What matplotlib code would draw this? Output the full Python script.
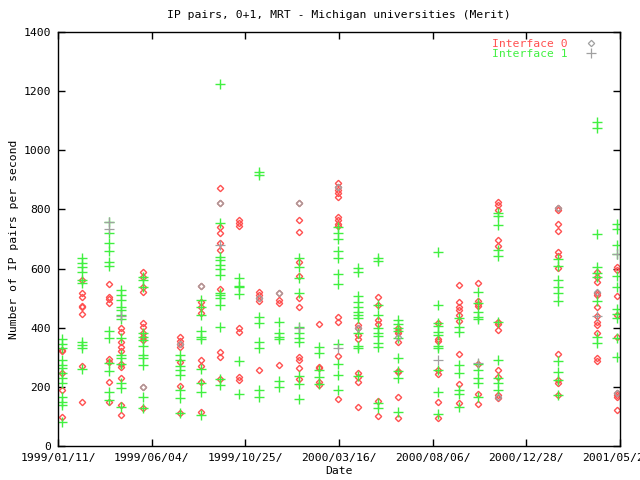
import matplotlib
matplotlib.use("Agg")
import matplotlib.pyplot as plt
import matplotlib.dates as mdates
from matplotlib.lines import Line2D
import numpy as np
import datetime as dt

# sample dates (one column of points per date) and values
dates = ["1999-01-17", "1999-02-17", "1999-03-30", "1999-04-18", "1999-05-21",
         "1999-07-17", "1999-08-18", "1999-09-16", "1999-10-15", "1999-11-15",
         "1999-12-15", "2000-01-15", "2000-02-15", "2000-03-15", "2000-04-15",
         "2000-05-15", "2000-06-15", "2000-08-15", "2000-09-16", "2000-10-15",
         "2000-11-15", "2001-02-15", "2001-04-16", "2001-05-16"]

if0 = [
    [325, 320, 247, 189, 98],
    [561, 517, 504, 473, 470, 446, 270, 149],
    [548, 504, 497, 484, 294, 284, 216, 149],
    [399, 386, 352, 335, 321, 277, 267, 230, 139, 105],
    [588, 572, 538, 521, 416, 402, 382, 369, 358, 200, 128],
    [369, 355, 345, 335, 284, 203, 112],
    [541, 487, 470, 450, 291, 271, 216, 115],
    [872, 822, 741, 720, 687, 663, 531, 318, 301, 227],
    [764, 754, 744, 399, 386, 233, 223],
    [521, 511, 500, 490, 257],
    [517, 494, 484, 274],
    [822, 764, 724, 622, 575, 500, 470, 301, 291, 264, 227],
    [412, 267, 264, 216, 206],
    [889, 876, 866, 856, 842, 774, 764, 751, 744, 436, 419, 304, 159],
    [409, 399, 375, 362, 247, 233, 216, 132],
    [504, 477, 426, 412, 152, 101],
    [399, 389, 382, 352, 254, 250, 166, 95],
    [416, 362, 355, 257, 243, 149, 95],
    [544, 487, 470, 460, 443, 423, 311, 210, 145],
    [551, 490, 480, 473, 277, 176, 142],
    [825, 815, 798, 697, 676, 419, 412, 392, 257, 233, 172, 162],
    [805, 798, 751, 727, 656, 643, 602, 311, 223, 213, 172],
    [588, 572, 555, 517, 511, 470, 440, 419, 409, 382, 298, 287],
    [605, 595, 507, 443, 369, 179, 172, 166, 122],
]

if1 = [
    [362, 345, 331, 291, 274, 264, 247, 230, 213, 166, 149, 139, 81],
    [636, 619, 605, 588, 561, 551, 352, 342, 331, 260],
    [757, 720, 686, 659, 622, 609, 389, 365, 281, 254, 183, 156],
    [528, 511, 494, 470, 460, 443, 430, 365, 308, 298, 277, 213, 196, 132],
    [572, 561, 538, 382, 369, 358, 338, 308, 298, 274, 166, 128],
    [308, 291, 271, 257, 240, 189, 162, 112],
    [494, 470, 443, 389, 369, 362, 260, 213, 183, 105],
    [1224, 754, 639, 629, 612, 598, 578, 517, 511, 500, 477, 402, 227, 206],
    [568, 541, 538, 514, 287, 176],
    [927, 916, 436, 416, 352, 331, 189, 166],
    [419, 382, 369, 362, 220, 200],
    [636, 605, 568, 517, 402, 382, 365, 352, 237, 210, 159],
    [335, 315, 257, 233, 210],
    [741, 720, 700, 659, 636, 582, 548, 345, 277, 240, 189],
    [602, 588, 507, 487, 470, 453, 443, 433, 382, 338, 331, 237],
    [636, 626, 477, 443, 399, 382, 372, 348, 335, 145, 128],
    [426, 412, 399, 389, 365, 298, 254, 230, 115],
    [656, 477, 416, 406, 386, 375, 338, 331, 257, 183, 108],
    [433, 402, 386, 274, 247, 189, 176, 132],
    [521, 484, 453, 436, 430, 277, 257, 230, 213, 166],
    [788, 778, 747, 663, 643, 419, 291, 230, 213, 189],
    [632, 609, 561, 538, 517, 490, 287, 250, 223, 172],
    [1096, 1075, 717, 605, 585, 572, 490, 369, 348],
    [751, 734, 680, 649, 575, 538, 463, 446, 433, 365, 301],
]

# grey samples
grey_dia_dates = ["1999-05-21", "1999-07-17", "1999-08-18", "1999-09-16", "1999-11-15",
                  "1999-12-15", "2000-01-15", "2000-03-15", "2000-04-15", "2000-06-15",
                  "2000-11-15", "2001-02-15", "2001-04-16", "2001-05-16"]
grey_dia_vals = [200, 345, 540, 822, 500, 517, 822, 876, 400, 370, 165, 805, 520, 180]
grey_plus_dates = ["1999-03-30", "1999-03-30", "1999-04-18", "1999-09-16", "2000-01-15",
                   "2000-03-15", "2000-08-15", "2000-10-15", "2001-04-16", "2001-05-16"]
grey_plus_vals = [757, 733, 440, 680, 400, 330, 290, 280, 440, 650]

tick_labels = ["1999/01/11/", "1999/06/04/", "1999/10/25/", "2000/03/16/",
               "2000/08/06/", "2000/12/28/", "2001/05/21/"]

red = "#ff5050"
green = "#40f040"
grey = "#a0a0a0"
mono = "DejaVu Sans Mono"
fs = 8.2

fig = plt.figure(figsize=(6.4, 4.8), dpi=100)
ax = fig.add_axes([58 / 640, 34 / 480, 562 / 640, 414 / 480])

def todate(s):
    return dt.datetime.strptime(s, "%Y-%m-%d")

x0, x1 = [], []
y0, y1 = [], []
for d, a, b in zip(dates, if0, if1):
    x0 += [todate(d)] * len(a)
    y0 += a
    x1 += [todate(d)] * len(b)
    y1 += b

ax.plot(x0, y0, ls="none", marker="D", ms=3.2, mfc="none", mec=red, mew=1.0)
ax.plot(x1, y1, ls="none", marker="+", ms=6.5, mec=green, mew=1.0)
ax.plot([todate(d) for d in grey_dia_dates], grey_dia_vals, ls="none", marker="D",
        ms=3.2, mfc="none", mec=grey, mew=0.9)
ax.plot([todate(d) for d in grey_plus_dates], grey_plus_vals, ls="none", marker="+",
        ms=6.5, mec=grey, mew=0.9)

start = mdates.date2num(dt.datetime(1999, 1, 11))
step = 143.5
ticks = [start + i * step for i in range(len(tick_labels))]
ax.set_xlim(ticks[0], ticks[-1])
ax.set_xticks(ticks)
ax.set_xticklabels(tick_labels, fontfamily=mono, fontsize=fs)
ax.set_ylim(0, 1400)
ax.set_yticks(np.arange(0, 1401, 200))
ax.set_yticklabels([str(v) for v in range(0, 1401, 200)], fontfamily=mono, fontsize=fs)
ax.tick_params(direction="in", length=5, width=1, top=True, right=True, pad=5)
for s in ax.spines.values():
    s.set_linewidth(1)

ax.set_title("IP pairs, 0+1, MRT - Michigan universities (Merit)",
             fontfamily=mono, fontsize=fs, pad=10)
ax.set_xlabel("Date", fontfamily=mono, fontsize=fs, labelpad=2)
ax.set_ylabel("Number of IP pairs per second", fontfamily=mono, fontsize=fs, labelpad=3)

handles = [Line2D([], [], ls="none", marker="D", ms=3.2, mfc="none", mec=grey, mew=0.9),
           Line2D([], [], ls="none", marker="+", ms=6.5, mec=grey, mew=0.9)]
leg = ax.legend(handles, ["Interface 0", "Interface 1"], loc="upper right",
                bbox_to_anchor=(0.975, 1.006),
                frameon=False, markerfirst=False, labelcolor=[red, green],
                prop={"family": mono, "size": fs}, handlelength=1.0,
                handletextpad=1.6, borderaxespad=0.6, borderpad=0.2,
                labelspacing=0.0)

fig.savefig("out.png", dpi=100)
